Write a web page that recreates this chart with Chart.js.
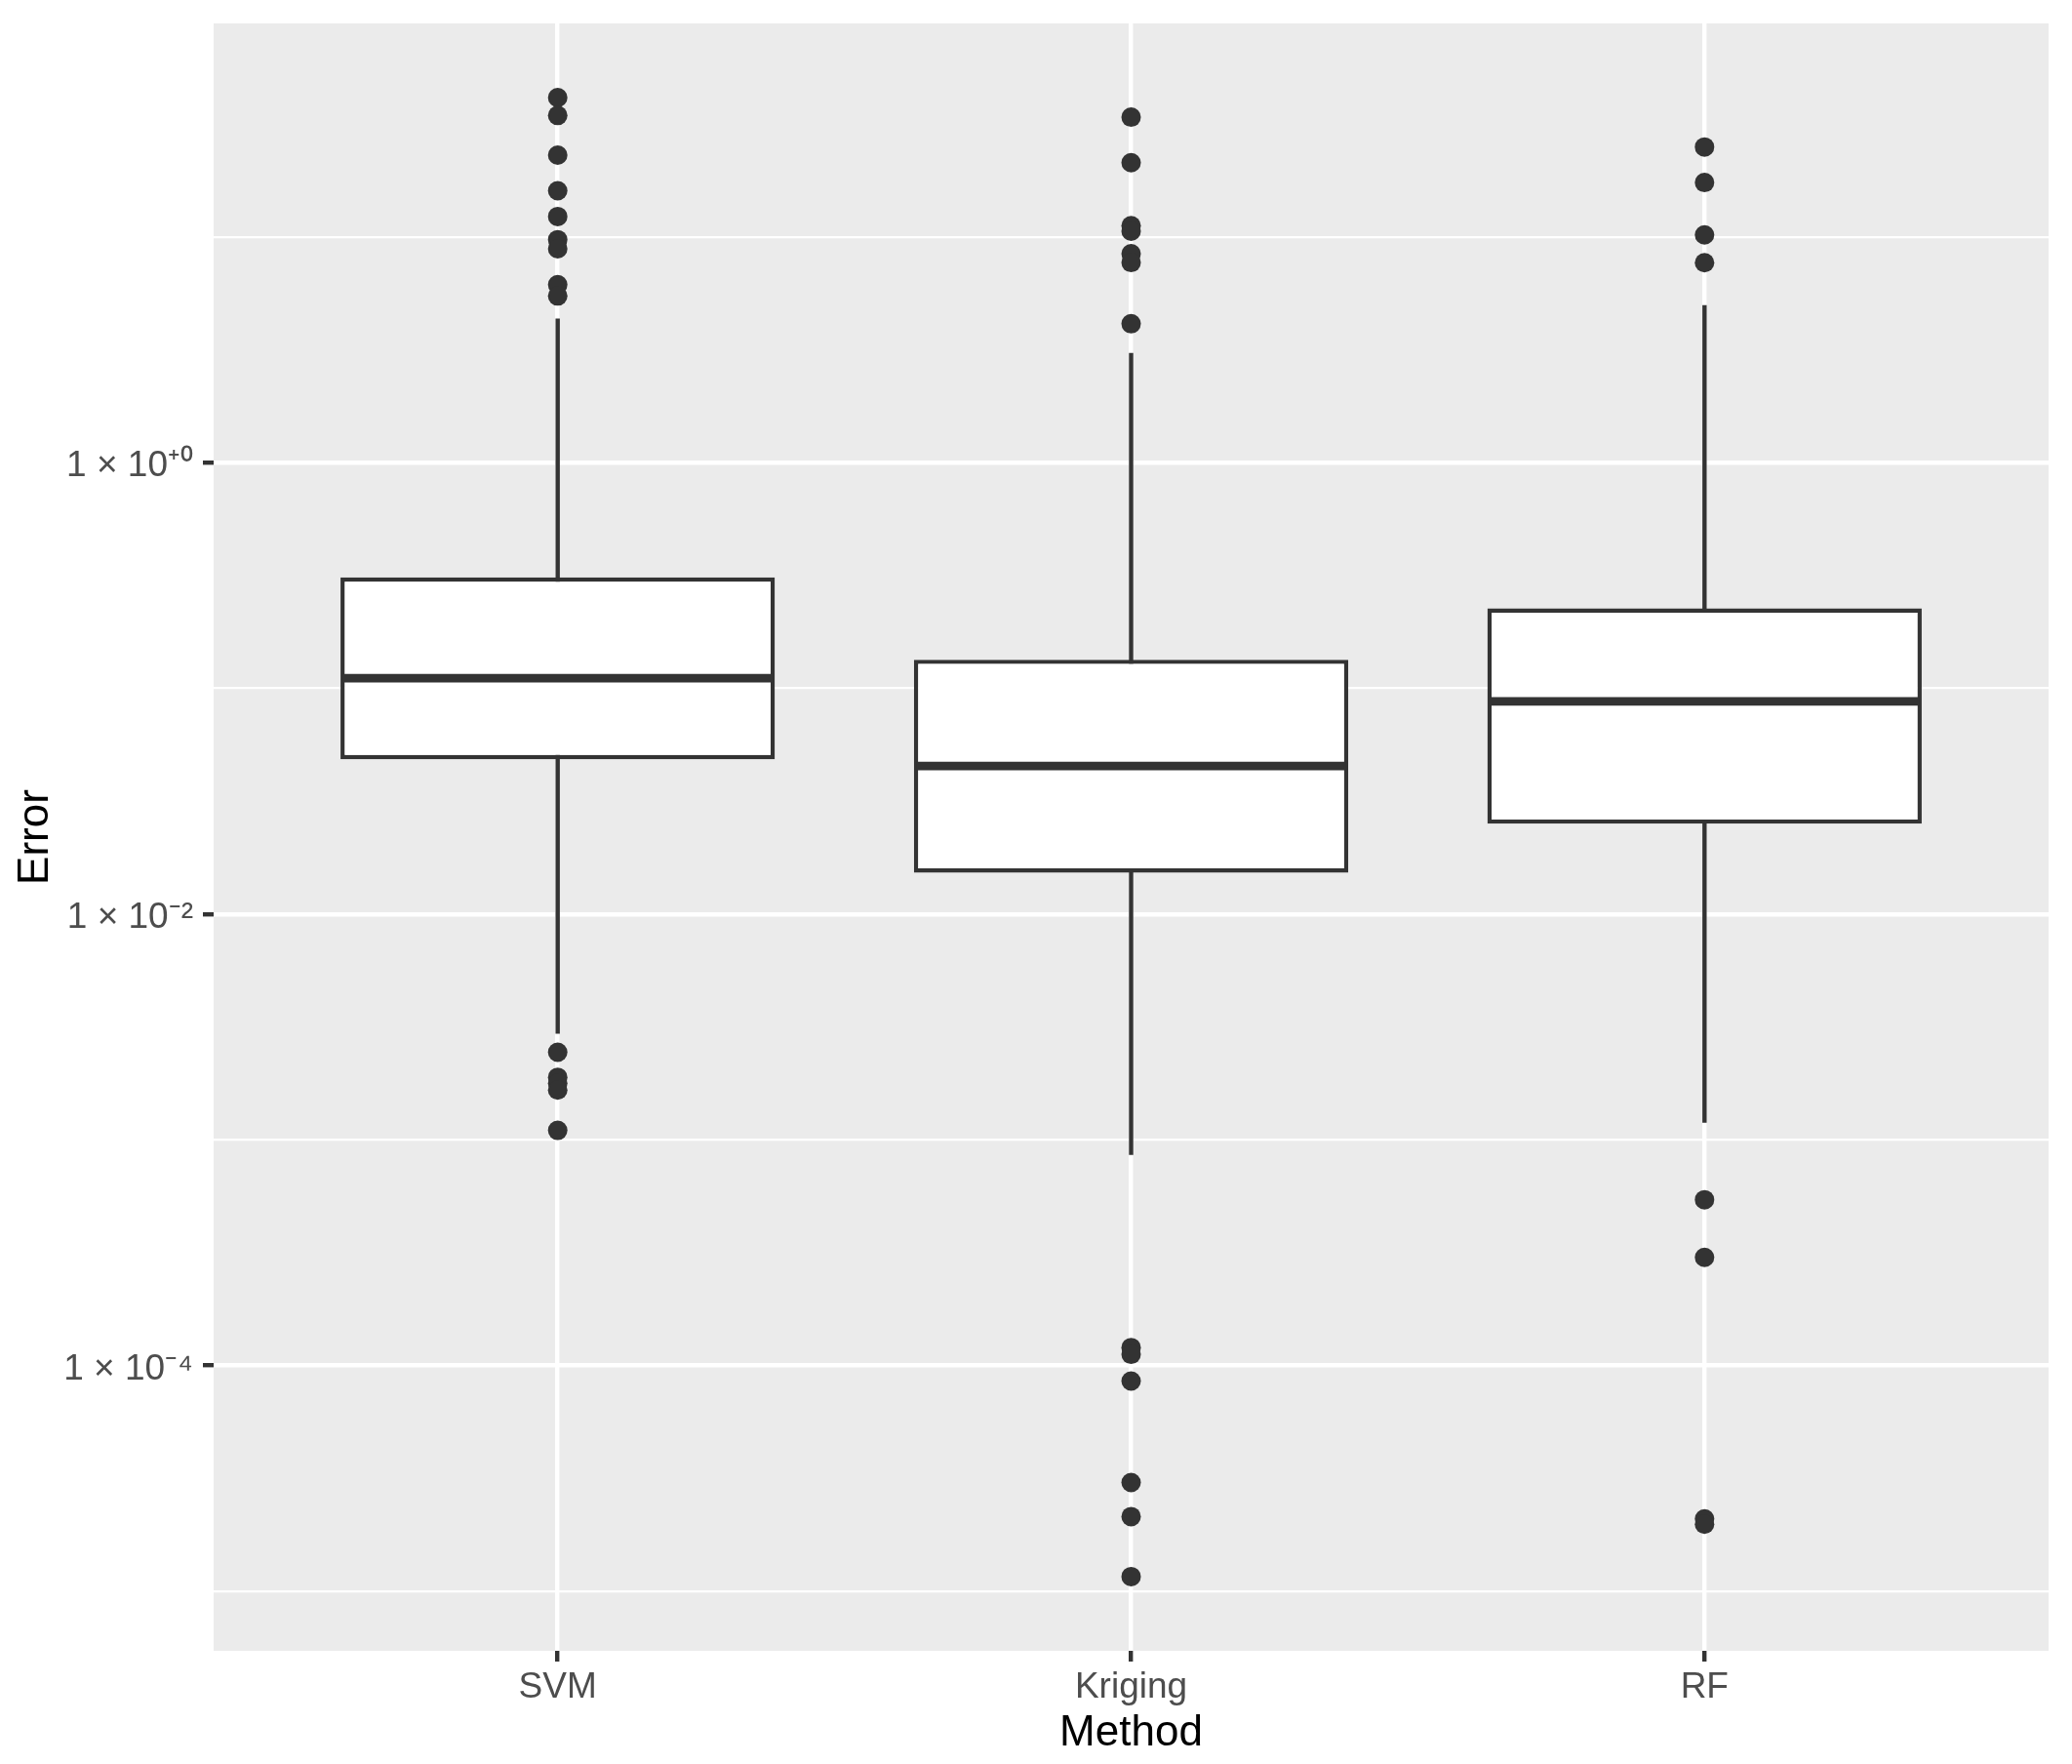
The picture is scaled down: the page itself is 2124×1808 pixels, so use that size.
<!DOCTYPE html>
<html><head><meta charset="utf-8">
<script src="https://cdn.jsdelivr.net/npm/chart.js@4"></script>
<style>html,body{margin:0;padding:0;background:#fff;}canvas{display:block;}</style>
</head><body>
<canvas id="c" width="2124" height="1808"></canvas>
<script>
// ---- data ----
const categories = ['SVM', 'Kriging', 'RF'];
const q1 = [0.0485, 0.01524, 0.0251];
const medians = [0.1107, 0.0452, 0.0875];
const q3 = [0.310, 0.1338, 0.226];
const whiskerLow = [0.00295, 0.000857, 0.00119];
const whiskerHigh = [4.34, 3.06, 4.98];
const outliersSVM = [41.4, 34.5, 23.0, 16.0, 12.3, 9.71, 8.85, 6.14, 5.47, 0.00244, 0.00189, 0.00178, 0.00166, 0.00110];
const outliersKriging = [33.9, 21.3, 11.2, 10.6, 8.42, 7.69, 4.12, 0.000120, 0.000112, 0.0000853, 0.0000303, 0.0000214, 0.0000116];
const outliersRF = [25.0, 17.4, 10.2, 7.68, 0.000542, 0.000301, 0.0000209, 0.0000198];
const yMajorTicks = [1e-4, 1e-2, 1];
const yMinorTicks = [1e-5, 1e-3, 1e-1, 10];
const yTickLabels = ['1 \u00d7 10\u207b\u2074', '1 \u00d7 10\u207b\u00b2', '1 \u00d7 10\u207a\u2070'];
const yMin = 5.44e-6, yMax = 88.2;
const xTitle = 'Method', yTitle = 'Error';

// ---- style ----
const DARK = '#333333';
const FONT = "'Liberation Sans', Arial, sans-serif";
const BOX_HALF = 0.375;
const allOutliers = [outliersSVM, outliersKriging, outliersRF];

const datasets = [];
categories.forEach((c, i) => {
  const x = i + 1;
  datasets.push({
    type: 'line', order: 3,
    data: [{x: x, y: whiskerLow[i]}, {x: x, y: whiskerHigh[i]}],
    borderColor: DARK, borderWidth: 4.4, pointRadius: 0, fill: false, tension: 0
  });
  datasets.push({
    type: 'line', order: 1,
    data: [{x: x - BOX_HALF, y: medians[i]}, {x: x + BOX_HALF, y: medians[i]}],
    borderColor: DARK, borderWidth: 8.8, pointRadius: 0, fill: false, tension: 0
  });
  datasets.push({
    type: 'scatter', order: 0,
    data: allOutliers[i].map(v => ({x: x, y: v})),
    backgroundColor: DARK, borderWidth: 0, pointRadius: 10
  });
});
datasets.push({
  type: 'bar', order: 2,
  data: categories.map((c, i) => ({x: i + 1, y: [q1[i], q3[i]]})),
  backgroundColor: '#FFFFFF', borderColor: DARK, borderWidth: 4.4,
  borderSkipped: false, grouped: false,
  categoryPercentage: 1, barPercentage: 0.7575
});

const panelBg = {
  id: 'panelBg',
  beforeDraw(chart) {
    const a = chart.chartArea, ctx = chart.ctx;
    ctx.save();
    ctx.fillStyle = '#EBEBEB';
    ctx.fillRect(a.left, a.top, a.right - a.left, a.bottom - a.top);
    ctx.restore();
  }
};

const isMajor = v => yMajorTicks.some(t => Math.abs(Math.log10(t) - Math.log10(v)) < 1e-9);

new Chart(document.getElementById('c'), {
  type: 'bar',
  data: { datasets },
  options: {
    responsive: false, animation: false, devicePixelRatio: 1,
    layout: { padding: { top: 24, right: 24, left: 0, bottom: 0 } },
    plugins: { legend: { display: false }, tooltip: { enabled: false } },
    scales: {
      x: {
        type: 'linear', min: 0.4, max: 3.6, offset: false,
        afterBuildTicks(scale) { scale.ticks = categories.map((c, i) => ({value: i + 1})); },
        afterFit(scale) { scale.height = 116; scale.paddingLeft = 0; scale.paddingRight = 0; },
        ticks: {
          autoSkip: false, maxRotation: 0, padding: 5,
          color: '#4D4D4D', font: { family: FONT, size: 37 },
          callback: v => categories[Math.round(v) - 1] || ''
        },
        grid: {
          offset: false, color: '#FFFFFF', lineWidth: 4.4,
          drawTicks: true, tickLength: 11, tickColor: DARK, tickWidth: 4.4
        },
        border: { display: false },
        title: { display: true, text: xTitle, color: '#000000',
                 font: { family: FONT, size: 44 }, padding: { top: 0, bottom: 5 } }
      },
      y: {
        type: 'logarithmic', min: yMin, max: yMax,
        afterBuildTicks(scale) {
          scale.ticks = yMinorTicks.concat(yMajorTicks).sort((a, b) => a - b).map(v => ({value: v}));
        },
        afterFit(scale) { scale.width = 219; scale.paddingTop = 0; scale.paddingBottom = 0; },
        ticks: {
          autoSkip: false, padding: 10, labelOffset: 4,
          color: '#4D4D4D', font: { family: FONT, size: 37 },
          callback: v => {
            const i = yMajorTicks.findIndex(t => Math.abs(Math.log10(t) - Math.log10(v)) < 1e-9);
            return i >= 0 ? yTickLabels[i] : '';
          }
        },
        grid: {
          color: '#FFFFFF',
          lineWidth: ctx => (ctx.tick && isMajor(ctx.tick.value)) ? 4.4 : 2.2,
          drawTicks: true, tickLength: 11, tickWidth: 4.4,
          tickColor: ctx => (ctx.tick && isMajor(ctx.tick.value)) ? DARK : 'rgba(0,0,0,0)'
        },
        border: { display: false },
        title: { display: true, text: yTitle, color: '#000000',
                 font: { family: FONT, size: 44 }, padding: { top: 10, bottom: 0 } }
      }
    }
  },
  plugins: [panelBg]
});
</script>
</body></html>
